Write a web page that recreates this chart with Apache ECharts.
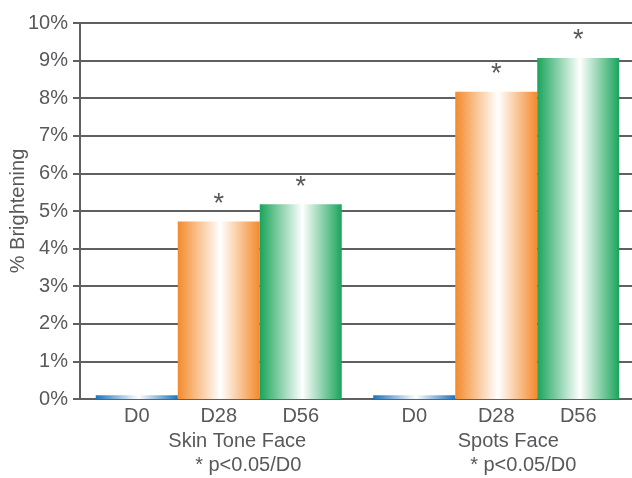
<!DOCTYPE html>
<html>
<head>
<meta charset="utf-8">
<script src="https://cdn.jsdelivr.net/npm/echarts@6/dist/echarts.min.js"></script>
<style>html,body{margin:0;padding:0;background:#fff;}#c{width:632px;height:478px;}</style>
</head>
<body>
<div id="c"></div>
<script>
const groups = ['Skin Tone Face', 'Spots Face'];
const groupNote = '* p<0.05/D0';
const seriesNames = ['D0', 'D28', 'D56'];
const d0Values = [0.1, 0.1];
const d28Values = [4.72, 8.17];
const d56Values = [5.18, 9.07];
const d0Marks = ['', ''];
const d28Marks = ['*', '*'];
const d56Marks = ['*', '*'];
const yTicks = [0, 1, 2, 3, 4, 5, 6, 7, 8, 9, 10];

const FONT = 'Liberation Sans';
const TXT = '#58595b';
const LINE = '#5f6062';

function grad(c) {
  return new echarts.graphic.LinearGradient(0, 0, 1, 0, [
    {offset: 0, color: c},
    {offset: 0.52, color: '#ffffff'},
    {offset: 1, color: c}
  ]);
}
const colors = ['#1c74bb', '#f48a2c', '#1aa45a'];
const values = [d0Values, d28Values, d56Values];
const marks = [d0Marks, d28Marks, d56Marks];

const series = seriesNames.map((name, si) => ({
  name: name,
  type: 'bar',
  barWidth: 82,
  barGap: '0%',
  data: values[si],
  itemStyle: {color: grad(colors[si])},
  label: {
    show: true, position: 'bottom', distance: 7,
    formatter: name, color: TXT, fontFamily: FONT, fontSize: 20
  },
  markPoint: {
    symbol: 'circle', symbolSize: 1,
    itemStyle: {color: 'rgba(0,0,0,0)'},
    label: {show: true, position: 'top', distance: 3, color: TXT, fontFamily: FONT, fontSize: 27,
      formatter: p => p.name},
    data: values[si].map((v, i) => ({name: marks[si][i], coord: [i, v]})).filter(d => d.name)
  }
}));

const chart = echarts.init(document.getElementById('c'));
chart.setOption({
  animation: false,
  grid: {left: 80, top: 23, height: 376, width: 555, containLabel: false, outerBoundsMode: 'none'},
  xAxis: {
    type: 'category',
    data: groups,
    axisLine: {show: true, lineStyle: {color: LINE, width: 2}},
    axisTick: {show: false},
    axisLabel: {
      margin: 30, color: TXT, fontFamily: FONT, fontSize: 20, lineHeight: 24,
      formatter: (v, i) => '{g' + i + '|' + v + '}\n{p' + i + '|' + groupNote + '}',
      rich: {
        g0: {padding: [0, 0, 0, 37], fontFamily: FONT, fontSize: 20, color: TXT, lineHeight: 24},
        p0: {padding: [0, 0, 0, 59], fontFamily: FONT, fontSize: 20, color: TXT, lineHeight: 24},
        g1: {padding: [0, 0, 0, 24], fontFamily: FONT, fontSize: 20, color: TXT, lineHeight: 24},
        p1: {padding: [0, 0, 0, 54], fontFamily: FONT, fontSize: 20, color: TXT, lineHeight: 24}
      }
    }
  },
  yAxis: {
    type: 'value',
    min: yTicks[0], max: yTicks[yTicks.length - 1], interval: 1,
    name: '% Brightening',
    nameLocation: 'middle', nameGap: 52, nameMoveOverlap: false,
    nameTextStyle: {color: TXT, fontFamily: FONT, fontSize: 20},
    axisLine: {show: true, lineStyle: {color: LINE, width: 2}},
    axisTick: {show: true, length: 7, lineStyle: {color: LINE, width: 2}},
    axisLabel: {margin: 12, color: TXT, fontFamily: FONT, fontSize: 20, formatter: '{value}%'},
    splitLine: {show: true, lineStyle: {color: LINE, width: 2}}
  },
  series: series
});
</script>
</body>
</html>
